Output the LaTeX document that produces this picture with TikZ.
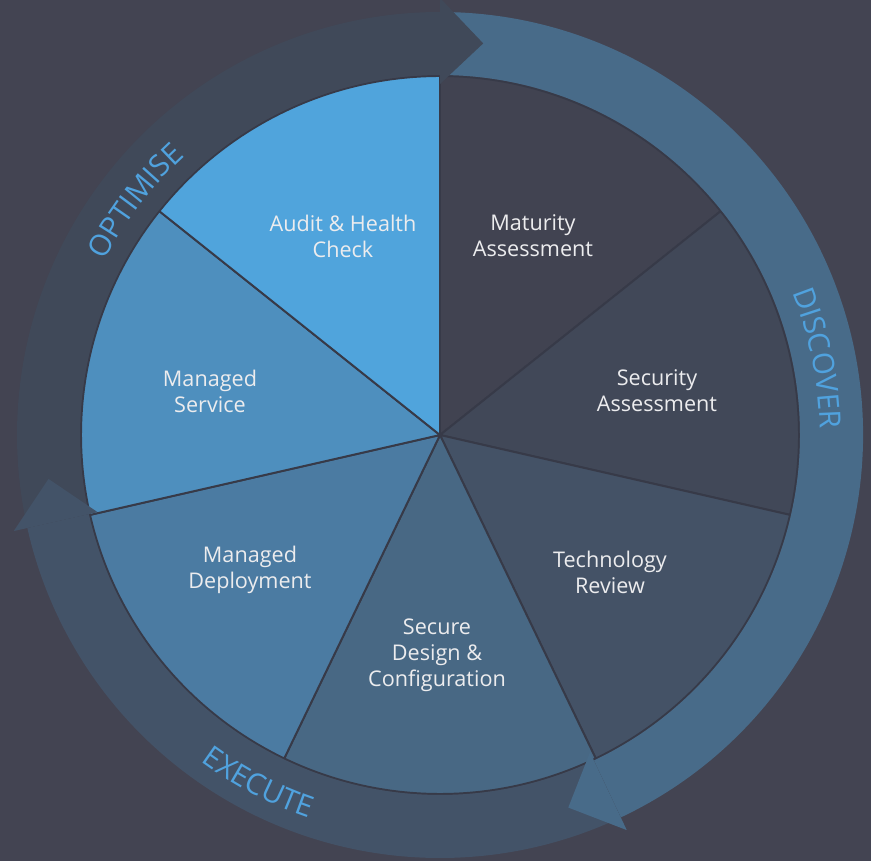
\documentclass[tikz,border=0pt]{standalone}
\usepackage{fontspec}
\setmainfont{Open Sans}
\usetikzlibrary{decorations.text}

\definecolor{bgdark}{RGB}{67,68,82}
\definecolor{sepline}{RGB}{55,58,72}
\definecolor{pieA}{RGB}{65,67,81}
\definecolor{pieB}{RGB}{65,72,88}
\definecolor{pieC}{RGB}{68,82,102}
\definecolor{pieD}{RGB}{72,104,132}
\definecolor{pieE}{RGB}{75,123,162}
\definecolor{pieF}{RGB}{78,143,190}
\definecolor{pieG}{RGB}{80,164,220}
\definecolor{ringopt}{RGB}{64,73,89}
\definecolor{ringdis}{RGB}{72,107,137}
\definecolor{ringexe}{RGB}{67,83,104}
\definecolor{ringtext}{RGB}{80,162,222}
\definecolor{labeltext}{RGB}{236,236,238}

\tikzset{
  pielabel/.style={align=center, text=labeltext, font=\fontsize{12.3}{14.8}\selectfont},
  ringword/.style={decorate, decoration={text along path, text align=center,
      text color=ringtext, text={|\fontsize{16.8}{16.8}\selectfont|#1}}},
}

\begin{document}
\begin{tikzpicture}

 \fill[bgdark] (-8.8,-8.52) rectangle (8.62,8.7);
 \useasboundingbox (-8.8,-8.52) rectangle (8.62,8.7);

 % pie, clockwise from the top
 \foreach \c [count=\i from 0] in {pieA,pieB,pieC,pieD,pieE,pieF,pieG}{%
     \filldraw[fill=\c, draw=sepline, line width=1.1pt, line join=round]
        (0,0) -- ({90-\i*360/7}:7.18)
        arc[start angle={90-\i*360/7}, end angle={90-(\i+1)*360/7}, radius=7.18] -- cycle;
 }

 % ring bands
 \foreach \a/\b/\c in {192.7/90/ringopt, 90/-64.7/ringdis, 295.3/192.7/ringexe}{%
     \fill[\c] (\a:7.2) arc[start angle=\a, end angle=\b, radius=7.2]
        -- (\b:8.46) arc[start angle=\b, end angle=\a, radius=8.46] -- cycle;
 }
 % arrow heads
 \foreach \b/\c in {90/ringopt, -64.7/ringdis, 192.7/ringexe}{%
     \fill[\c] (\b:7.02) -- (\b:8.74) -- ({\b-6.3}:7.88) -- cycle;
 }

 \path[ringword=OPTIMISE] (170:7.56) arc[start angle=170, end angle=115, radius=7.56];
 \path[ringword=DISCOVER] (40:7.6) arc[start angle=40, end angle=-17, radius=7.6];
 \path[ringword=EXECUTE] (215:8.1) arc[start angle=215, end angle=270, radius=8.1];

 \node[pielabel] (audit) at (-1.94,3.98) {Audit \& Health\\Check};
 \node[pielabel] (matur) at (1.86,3.98) {Maturity\\Assessment};
 \node[pielabel] (secur) at (4.34,0.88) {Security\\Assessment};
 \node[pielabel] (techn) at (3.40,-2.74) {Technology\\Review};
 \node[pielabel] (design) at (-0.06,-4.40) {Secure\\Design \&\\Configuration};
 \node[pielabel] (deploy) at (-3.80,-2.70) {Managed\\Deployment};
 \node[pielabel] (service) at (-4.60,0.88) {Managed\\Service};

\end{tikzpicture}
\end{document}
